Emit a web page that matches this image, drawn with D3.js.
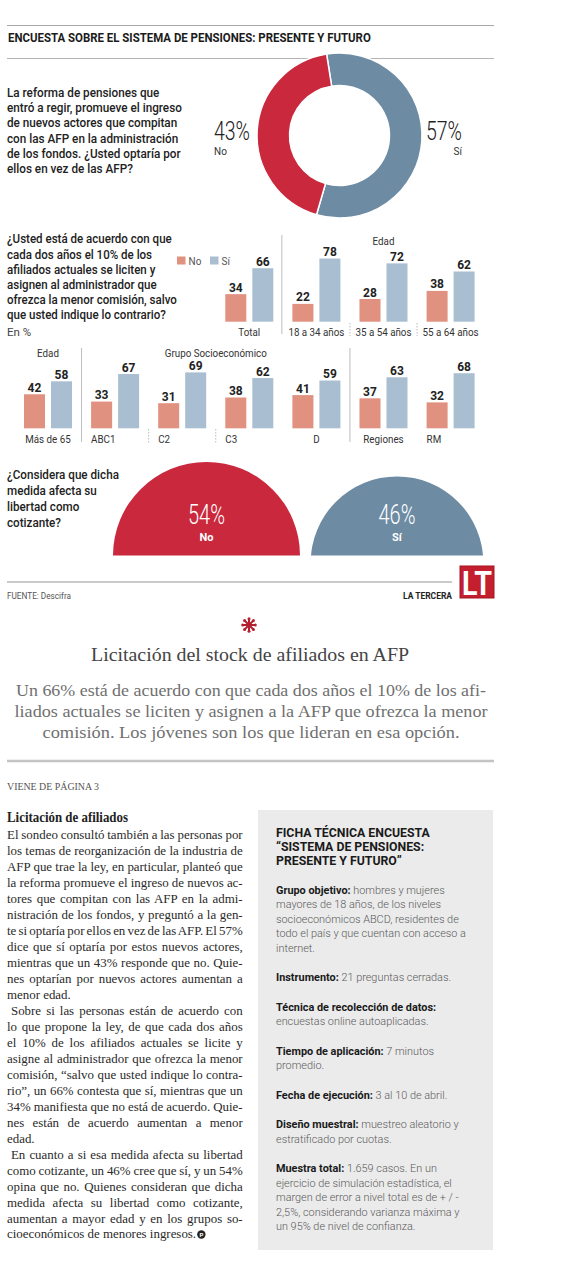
<!DOCTYPE html>
<html><head><meta charset="utf-8">
<script src="https://cdn.jsdelivr.net/npm/d3@7"></script>
<style>html,body{margin:0;padding:0;background:#fff}svg{display:block}</style>
</head><body>
<svg id="c" width="562" height="1262"></svg>
<script>
// ---------------- DATA ----------------
const donutLabels = ["Sí", "No"];
const donutValues = [57, 43];

const seriesNames = ["No", "Sí"];
const row1Categories = ["Total", "18 a 34 años", "35 a 54 años", "55 a 64 años"];
const row1No = [34, 22, 28, 38];
const row1Si = [66, 78, 72, 62];

const row2Categories = ["Más de 65", "ABC1", "C2", "C3", "D", "Regiones", "RM"];
const row2No = [42, 33, 31, 38, 41, 37, 32];
const row2Si = [58, 67, 69, 62, 59, 63, 68];

const semiLabels = ["No", "Sí"];
const semiValues = [54, 46];

// ---------------- TEXT ----------------
const titleText = "ENCUESTA SOBRE EL SISTEMA DE PENSIONES: PRESENTE Y FUTURO";
const q1Lines = ["La reforma de pensiones que", "entró a regir, promueve el ingreso", "de nuevos actores que  compitan", "con las AFP en la administración", "de los fondos.  ¿Usted optaría por", "ellos en vez de las AFP?"];
const q2Lines = ["¿Usted está de acuerdo con que", "cada dos años el 10% de los", "afiliados actuales se liciten y", "asignen al administrador que", "ofrezca la menor comisión, salvo", "que usted indique lo contrario?"];
const q3Lines = ["¿Considera que dicha", "medida afecta su", "libertad como", "cotizante?"];
const deckTitle = "Licitación del stock de afiliados en AFP";
const deckLines = ["Un 66% está de acuerdo con que cada dos años el 10% de los afi-", "liados actuales se liciten y asignen a la AFP que ofrezca la menor", "comisión. Los  jóvenes son los que lideran en esa opción."];
const bodyLines = [
 "El sondeo consultó también a las personas por",
 "los temas de reorganización de la industria de",
 "AFP que trae la ley, en particular, planteó que",
 "la reforma promueve el ingreso de nuevos ac-",
 "tores que compitan con las AFP en la admi-",
 "nistración de los fondos, y preguntó a la gen-",
 "te si optaría por ellos en vez de las AFP. El 57%",
 "dice que sí optaría por estos nuevos actores,",
 "mientras que un 43% responde que no. Quie-",
 "nes optarían por nuevos actores aumentan a",
 "menor edad.",
 "Sobre si las personas están de acuerdo con",
 "lo que propone la ley, de que cada dos años",
 "el 10% de los afiliados actuales se licite y",
 "asigne al administrador que ofrezca la menor",
 "comisión, “salvo que usted indique lo contra-",
 "rio”, un 66% contesta que sí, mientras que un",
 "34% manifiesta que no está de acuerdo. Quie-",
 "nes están de acuerdo aumentan a menor",
 "edad.",
 "En cuanto a si esa medida afecta su libertad",
 "como cotizante, un 46% cree que sí, y un 54%",
 "opina que no. Quienes consideran que dicha",
 "medida afecta su libertad como cotizante,",
 "aumentan a mayor edad y en los grupos so-",
 "cioeconómicos de menores ingresos."
];
const bodyParaEnds = [10, 19, 25];
const bodyIndents = [11, 20];
const fichaTitle = ["FICHA TÉCNICA ENCUESTA", "“SISTEMA DE PENSIONES:", "PRESENTE Y FUTURO”"];
const fichaItems = [
 {label: "Grupo objetivo:", lines: ["  hombres y mujeres", "mayores de 18 años, de los niveles", "socioeconómicos ABCD, residentes de", "todo el país y que cuentan con acceso a", "internet."]},
 {label: "Instrumento:", lines: [" 21 preguntas cerradas."]},
 {label: "Técnica de recolección de datos:", lines: ["", "encuestas online autoaplicadas."]},
 {label: "Tiempo de aplicación:", lines: [" 7 minutos", "promedio."]},
 {label: "Fecha de ejecución:", lines: [" 3 al 10 de abril."]},
 {label: "Diseño muestral:", lines: [" muestreo aleatorio y", "estratificado por cuotas."]},
 {label: "Muestra total:", lines: [" 1.659 casos. En un", "ejercicio de simulación estadística, el", "margen de error a nivel total es de + / -", "2,5%, considerando varianza máxima y", "un 95% de nivel de confianza."]}
];

// ---------------- STYLE ----------------
const SANS = "Roboto, 'Liberation Sans', Arial, sans-serif";
const SERIF = "'Liberation Serif', 'DejaVu Serif', serif";
const RED = "#c9283d", BLUE = "#6d8ba3";
const BAR_NO = "#e0917f", BAR_SI = "#a9bfd1";
const INK = "#1b1b1b";

const svg = d3.select("#c");

function block(parent, lines, o) {
  const g = parent.append("g").attr("transform", `translate(${o.x},0)`);
  const inner = g.append("g");
  const t = inner.selectAll("text").data(lines).join("text")
    .attr("x", 0).attr("y", (d, i) => o.y + i * o.dy)
    .attr("text-anchor", o.anchor || "start")
    .style("font-family", o.family || SANS)
    .style("font-size", o.size + "px")
    .style("font-weight", o.weight || 400)
    .attr("fill", o.fill || INK)
    .text(d => d);
  const nat = t.nodes()[o.ref || 0].getComputedTextLength();
  const f = o.width / nat;
  inner.attr("transform", `scale(${f},1)`);
  return {g, t, f};
}
function squeeze(sel, f) {
  sel.each(function() {
    const w = this.getComputedTextLength();
    d3.select(this).attr("textLength", w * f).attr("lengthAdjust", "spacingAndGlyphs");
  });
}

// ---------------- HEADER ----------------
svg.append("line").attr("x1", 7).attr("x2", 494).attr("y1", 25.5).attr("y2", 25.5).attr("stroke", "#a8a8a8").attr("stroke-width", 1);
svg.append("line").attr("x1", 7).attr("x2", 494).attr("y1", 58.5).attr("y2", 58.5).attr("stroke", "#b5b5b5").attr("stroke-width", 1);
block(svg, [titleText], {x: 8, y: 42.3, dy: 0, size: 12, weight: 700, width: 363});

// ---------------- DONUT ----------------
block(svg, q1Lines, {x: 7, y: 96.8, dy: 15.3, size: 12, weight: 500, ref: 1, width: 175, fill: "#222"});

const donutCx = 339.5, donutCy = 135.5;
const start = -9 * Math.PI / 180;
const pie = d3.pie().sort(null).value(d => d.v).startAngle(start).endAngle(start + 2 * Math.PI);
const donutData = donutLabels.map((l, i) => ({l, v: donutValues[i]}));
const arc = d3.arc().innerRadius(50).outerRadius(82.5);
const dg = svg.append("g").attr("transform", `translate(${donutCx},${donutCy})`);
dg.selectAll("path").data(pie(donutData)).join("path")
  .attr("d", arc).attr("fill", d => d.data.l === "No" ? RED : BLUE)
  .attr("stroke", "#fff").attr("stroke-width", 1.5);

donutData.forEach(d => {
  const left = d.l === "No";
  const x = left ? 214 : 462;
  const anchor = left ? "start" : "end";
  const big = svg.append("text").attr("x", x).attr("y", 140).attr("text-anchor", anchor)
    .style("font-family", SANS).style("font-size", "25px").style("font-weight", 300).attr("fill", "#222")
    .text(d.v + "%");
  squeeze(big, 36 / big.node().getComputedTextLength());
  svg.append("text").attr("x", x).attr("y", 154.5).attr("text-anchor", anchor)
    .style("font-family", SANS).style("font-size", "10px").attr("fill", "#333").text(d.l);
});

// ---------------- BAR CHARTS ----------------
block(svg, q2Lines, {x: 7, y: 243.5, dy: 15.2, size: 13, weight: 500, ref: 4, width: 170, fill: "#222"});
svg.append("text").attr("x", 7).attr("y", 335.5).style("font-family", SANS).style("font-size", "11.5px").attr("fill", "#444").text("En %");

const legend = svg.append("g");
seriesNames.forEach((s, i) => {
  const lx = 177 + i * 33;
  legend.append("rect").attr("x", lx).attr("y", 256.5).attr("width", 8.5).attr("height", 8).attr("fill", i === 0 ? BAR_NO : BAR_SI);
  legend.append("text").attr("x", lx + 11.5).attr("y", 264.5).style("font-family", SANS).style("font-size", "10px").attr("fill", "#555").text(s);
});

const slot = d3.scaleBand().domain(d3.range(7)).range([24, 474.6]).paddingInner(0.2846).paddingOuter(0);
const sub = d3.scaleBand().domain(seriesNames).range([0, slot.bandwidth()]).paddingInner(0.222);
const hScale = d3.scaleLinear().domain([0, 100]).range([0, 81]);

const probe = svg.append("text").style("font-family", SANS).style("font-size", "11.5px").text("18 a 34 años");
const catF = 56 / probe.node().getComputedTextLength();
probe.remove();

function drawRow(cats, no, si, slotOffset, baseY, anchors) {
  const g = svg.append("g");
  const rows = cats.map((c, i) => ({c, slot: i + slotOffset, vals: [{s: "No", v: no[i]}, {s: "Sí", v: si[i]}]}));
  const grp = g.selectAll("g.grp").data(rows).join("g").attr("class", "grp")
    .attr("transform", d => `translate(${slot(d.slot)},0)`);
  grp.selectAll("rect").data(d => d.vals).join("rect")
    .attr("x", d => sub(d.s)).attr("width", sub.bandwidth())
    .attr("y", d => baseY - hScale(d.v)).attr("height", d => hScale(d.v))
    .attr("fill", d => d.s === "No" ? BAR_NO : BAR_SI);
  grp.selectAll("text.val").data(d => d.vals).join("text").attr("class", "val")
    .attr("x", d => sub(d.s) + sub.bandwidth() / 2).attr("y", d => baseY - hScale(d.v) - 2.5)
    .attr("text-anchor", "middle").style("font-family", SANS).style("font-size", "12px").style("font-weight", 700)
    .attr("fill", "#222").text(d => d.v);
  const lab = grp.append("text").attr("class", "cat")
    .attr("x", d => (anchors && anchors[d.c] === "start") ? 0 : slot.bandwidth() / 2)
    .attr("text-anchor", d => (anchors && anchors[d.c] === "start") ? "start" : "middle")
    .attr("y", baseY + 14.5)
    .style("font-family", SANS).style("font-size", "11.5px").attr("fill", "#333").text(d => d.c);
  squeeze(lab, catF);
  return g;
}
const baseY1 = 321.7, baseY2 = 428.3;
drawRow(row1Categories, row1No, row1Si, 3, baseY1);
drawRow(row2Categories, row2No, row2Si, 0, baseY2, {"C2": "start", "C3": "start", "RM": "start", "ABC1": "start"});

const sepX = i => slot(i) + slot.bandwidth() + (slot.step() - slot.bandwidth()) / 2;
function vline(x, y1, y2, dashed) {
  svg.append("line").attr("x1", x).attr("x2", x).attr("y1", y1).attr("y2", y2)
    .attr("stroke", "#bcbcbc").attr("stroke-width", 1)
    .attr("stroke-dasharray", dashed ? "1.5,1.5" : null);
}
vline(sepX(3) - 1, 235, 334, false);
vline(sepX(4), 323, 336, true);
vline(sepX(5), 323, 336, true);
vline(sepX(0), 348, 442, false);
vline(sepX(4), 348, 442, false);
vline(sepX(1), 429, 443, true);
vline(sepX(2), 429, 443, true);

function header(txt, s0, s1, y) {
  const x = (slot(s0) + slot(s1) + slot.bandwidth()) / 2;
  const t = svg.append("text").attr("x", x).attr("y", y).attr("text-anchor", "middle")
    .style("font-family", SANS).style("font-size", "11.5px").attr("fill", "#333").text(txt);
  squeeze(t, catF);
}
header("Edad", 4, 6, 245);
header("Edad", 0, 0, 356.5);
header("Grupo Socioeconómico", 1, 4, 356.5);

// ---------------- SEMICIRCLES (bubbles bottom-aligned, cut at baseline) ----------------
block(svg, q3Lines, {x: 7, y: 479.5, dy: 15.9, size: 13, weight: 500, ref: 0, width: 112, fill: "#222"});
const rScale = d3.scaleSqrt().domain([0, d3.max(semiValues)]).range([0, 93.5]);
const rMax = rScale(d3.max(semiValues));
const semiBase = 555.5;
const defs = svg.append("defs");
defs.append("clipPath").attr("id", "cut").append("rect").attr("x", 0).attr("y", 0).attr("width", 562).attr("height", semiBase);
const semiG = svg.append("g").attr("clip-path", "url(#cut)");
let cursor = 113;
semiLabels.forEach((l, i) => {
  const r = rScale(semiValues[i]);
  const cy = semiBase + (rMax - r);
  const half = Math.sqrt(r * r - (rMax - r) * (rMax - r));
  const cx = cursor + half;
  cursor += 2 * half + 11;
  semiG.append("circle").attr("cx", cx).attr("cy", cy).attr("r", r).attr("fill", l === "No" ? RED : BLUE);
  const big = svg.append("text").attr("x", cx).attr("y", semiBase - 32).attr("text-anchor", "middle")
    .style("font-family", SANS).style("font-size", "27px").style("font-weight", 300).attr("fill", "#fff")
    .text(semiValues[i] + "%");
  squeeze(big, 37 / big.node().getComputedTextLength());
  svg.append("text").attr("x", cx).attr("y", semiBase - 15).attr("text-anchor", "middle")
    .style("font-family", SANS).style("font-size", "11px").style("font-weight", 700).attr("fill", "#fff").text(l);
});

// ---------------- FOOTER ----------------
svg.append("line").attr("x1", 7).attr("x2", 452).attr("y1", 582).attr("y2", 582).attr("stroke", "#b8b8b8").attr("stroke-width", 1.5);
const fu = svg.append("text").attr("x", 7).attr("y", 599).style("font-family", SANS).style("font-size", "9px").attr("fill", "#555").text("FUENTE: Descifra");
squeeze(fu, 64 / fu.node().getComputedTextLength());
const lt = svg.append("text").attr("x", 452).attr("y", 599).attr("text-anchor", "end").style("font-family", SANS).style("font-size", "9px").style("font-weight", 700).attr("fill", "#222").text("LA TERCERA");
squeeze(lt, 49 / lt.node().getComputedTextLength());
svg.append("rect").attr("x", 460).attr("y", 566).attr("width", 34).attr("height", 32).attr("fill", "#c41f2e").attr("stroke", "#a51522").attr("stroke-width", 1);
const ltLogo = svg.append("text").attr("x", 477).attr("y", 595).attr("text-anchor", "middle").style("font-family", SANS).style("font-size", "34px").style("font-weight", 700).attr("fill", "#fff").text("LT");
squeeze(ltLogo, 30 / ltLogo.node().getComputedTextLength());

// ---------------- DECK ----------------
const ast = svg.append("g").attr("transform", "translate(249,625)");
d3.range(8).forEach(k => {
  const a = k * Math.PI / 4;
  ast.append("line").attr("x1", 0).attr("y1", 0).attr("x2", 6 * Math.sin(a)).attr("y2", -6 * Math.cos(a))
    .attr("stroke", "#b4202f").attr("stroke-width", 2).attr("stroke-linecap", "round");
  ast.append("circle").attr("cx", 6.3 * Math.sin(a)).attr("cy", -6.3 * Math.cos(a)).attr("r", 1.5).attr("fill", "#b4202f");
});
ast.append("circle").attr("r", 2).attr("fill", "#b4202f");

const dt = svg.append("text").attr("x", 250).attr("y", 661).attr("text-anchor", "middle")
  .style("font-family", SERIF).style("font-size", "19.5px").attr("fill", "#444").text(deckTitle);
squeeze(dt, 318 / dt.node().getComputedTextLength());
const deckWidths = [470, 473, 417];
deckLines.forEach((l, i) => {
  const t = svg.append("text").attr("x", 251).attr("y", 695.5 + i * 21).attr("text-anchor", "middle")
    .style("font-family", SERIF).style("font-size", "17.5px").attr("fill", "#707070").text(l);
  squeeze(t, deckWidths[i] / t.node().getComputedTextLength());
});

svg.append("line").attr("x1", 7).attr("x2", 494).attr("y1", 761).attr("y2", 761).attr("stroke", "#c4c4c4").attr("stroke-width", 2.5);

// ---------------- BODY COLUMN ----------------
const vi = svg.append("text").attr("x", 7).attr("y", 789.5).style("font-family", SERIF).style("font-size", "10px").attr("fill", "#555").text("VIENE DE PÁGINA 3");
squeeze(vi, 92 / vi.node().getComputedTextLength());
const bh = svg.append("text").attr("x", 7).attr("y", 821.5).style("font-family", SERIF).style("font-size", "14px").style("font-weight", 700).attr("fill", "#222").text("Licitación de afiliados");
squeeze(bh, 121 / bh.node().getComputedTextLength());

(function bodyText() {
  const colW = 236, indent = 4;
  const g = svg.append("g").attr("transform", "translate(7,0)");
  const inner = g.append("g");
  const t = inner.selectAll("text").data(bodyLines).join("text")
    .attr("y", (d, i) => 839.5 + i * 15.96)
    .style("font-family", SERIF).style("font-size", "13px").attr("fill", "#2a2a2a").text(d => d);
  const nat = t.nodes().map(n => n.getComputedTextLength());
  const just = nat.filter((w, i) => !bodyParaEnds.includes(i)).sort(d3.ascending);
  const f = colW / d3.quantile(just, 0.8);
  inner.attr("transform", `scale(${f},1)`);
  t.each(function(d, i) {
    const ind = bodyIndents.includes(i) ? indent / f : 0;
    const s = d3.select(this).attr("x", ind);
    if (!bodyParaEnds.includes(i)) {
      const spaces = (d.match(/ /g) || []).length;
      const target = (colW - (bodyIndents.includes(i) ? indent : 0)) / f;
      if (spaces) s.style("word-spacing", ((target - nat[i]) / spaces) + "px");
    }
  });
  const last = bodyLines.length - 1;
  const endX = 7 + nat[last] * f + 5;
  svg.append("circle").attr("cx", endX).attr("cy", 839.5 + last * 15.96 - 4).attr("r", 4.2).attr("fill", "#222");
  svg.append("text").attr("x", endX).attr("y", 839.5 + last * 15.96 - 1.5).attr("text-anchor", "middle")
    .style("font-family", SANS).style("font-size", "6px").style("font-weight", 700).attr("fill", "#fff").text("P");
})();

// ---------------- FICHA TÉCNICA ----------------
svg.append("rect").attr("x", 258).attr("y", 810).attr("width", 235).attr("height", 440).attr("fill", "#ebebeb");
block(svg, fichaTitle, {x: 276, y: 837.5, dy: 14, size: 13, weight: 700, ref: 0, width: 154, fill: "#1a1a1a"});

(function ficha() {
  const g = svg.append("g").attr("transform", "translate(276,0)");
  const inner = g.append("g");
  let y = 894;
  const texts = [];
  fichaItems.forEach(item => {
    item.lines.forEach((l, j) => {
      const t = inner.append("text").attr("x", 0).attr("y", y)
        .style("font-family", SANS).style("font-size", "11.8px").attr("fill", "#5a5a5a");
      if (j === 0) t.append("tspan").style("font-weight", 700).attr("fill", "#1a1a1a").text(item.label);
      t.append("tspan").style("font-weight", 300).text(l);
      texts.push(t);
      y += 14.5;
    });
    y += 15;
  });
  const ref = texts[3].node().getComputedTextLength();
  inner.attr("transform", `scale(${190 / ref},1)`);
})();
</script>
</body></html>
